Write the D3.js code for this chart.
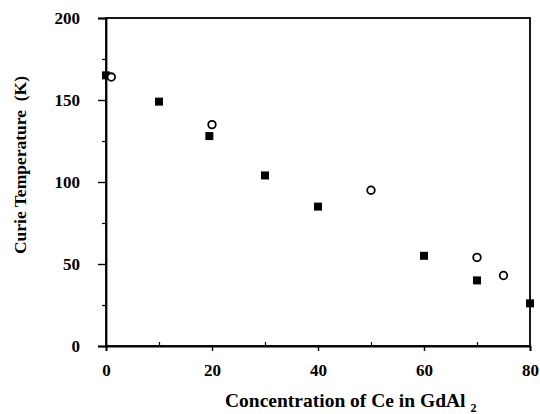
<!DOCTYPE html>
<html>
<head>
<meta charset="utf-8">
<script src="https://cdn.jsdelivr.net/npm/d3@7"></script>
<style>
  html, body { margin: 0; padding: 0; background: #fff; }
  svg { display: block; }
  text { font-family: "Liberation Serif", "Times New Roman", serif; font-weight: bold; fill: #000; white-space: pre; }
</style>
</head>
<body>
<svg id="chart" width="540" height="414"></svg>
<script>
// Data
const squareX = [0, 10, 19.5, 30, 40, 60, 70, 80];
const squareY = [165, 149, 128, 104, 85, 55, 40, 26];
const circleX = [1, 20, 50, 70, 75];
const circleY = [164, 135, 95, 54, 43];
const xTicks = [0, 20, 40, 60, 80];
const yTicks = [0, 50, 100, 150, 200];
const xMinor = [10, 30, 50, 70];
const yMinor = [25, 75, 125, 175];

const svg = d3.select("#chart");
const margin = { left: 106, right: 10, top: 18, bottom: 68 };
const W = 540, H = 414;
const x = d3.scaleLinear().domain([0, 80]).range([margin.left, W - margin.right]);
const y = d3.scaleLinear().domain([0, 200]).range([H - margin.bottom, margin.top]);

// frame
svg.append("rect")
  .attr("x", x(0)).attr("y", y(200))
  .attr("width", x(80) - x(0)).attr("height", y(0) - y(200))
  .attr("fill", "none").attr("stroke", "#000").attr("stroke-width", 1.8);

// y axis
const yAxis = d3.axisLeft(y).tickValues(yTicks).tickSize(8).tickPadding(18);
const gy = svg.append("g").attr("transform", `translate(${x(0)},0)`).call(yAxis);
gy.select(".domain").attr("stroke-width", 1.8);
gy.selectAll(".tick line").attr("stroke-width", 1.4);
gy.selectAll(".tick text").style("font-size", "17px");
const yMin = d3.axisLeft(y).tickValues(yMinor).tickSize(4).tickFormat("");
const gym = svg.append("g").attr("transform", `translate(${x(0)},0)`).call(yMin);
gym.select(".domain").remove();
gym.selectAll(".tick line").attr("stroke-width", 1.2);

// x axis
const xAxis = d3.axisBottom(x).tickValues(xTicks).tickSize(5).tickPadding(13);
const gx = svg.append("g").attr("transform", `translate(0,${y(0)})`).call(xAxis);
gx.select(".domain").attr("stroke-width", 1.8);
gx.selectAll(".tick line").attr("stroke-width", 1.4);
gx.selectAll(".tick text").style("font-size", "17px");
const xMin = d3.axisTop(x).tickValues(xMinor).tickSize(4).tickFormat("");
const gxm = svg.append("g").attr("transform", `translate(0,${y(0)})`).call(xMin);
gxm.select(".domain").remove();
gxm.selectAll(".tick line").attr("stroke-width", 1.2);

// titles
svg.append("text")
  .attr("transform", `translate(26,${165}) rotate(-90)`)
  .attr("text-anchor", "middle")
  .style("font-size", "17.5px")
  .text("Curie Temperature  (K)");

const xt = svg.append("text")
  .attr("x", 225).attr("y", 407)
  .attr("text-anchor", "start")
  .style("font-size", "19.5px");
xt.append("tspan").text("Concentration of Ce in GdAl ");
xt.append("tspan").attr("dy", 5).style("font-size", "12px").text("2");

// squares
const sq = 8;
svg.append("g").selectAll("rect")
  .data(squareX.map((d, i) => [d, squareY[i]]))
  .join("rect")
  .attr("x", d => x(d[0]) - sq / 2)
  .attr("y", d => y(d[1]) - sq / 2)
  .attr("width", sq).attr("height", sq)
  .attr("fill", "#000");

// circles
svg.append("g").selectAll("circle")
  .data(circleX.map((d, i) => [d, circleY[i]]))
  .join("circle")
  .attr("cx", d => x(d[0]))
  .attr("cy", d => y(d[1]))
  .attr("r", 3.8)
  .attr("fill", "#fff")
  .attr("stroke", "#000")
  .attr("stroke-width", 1.8);
</script>
</body>
</html>
